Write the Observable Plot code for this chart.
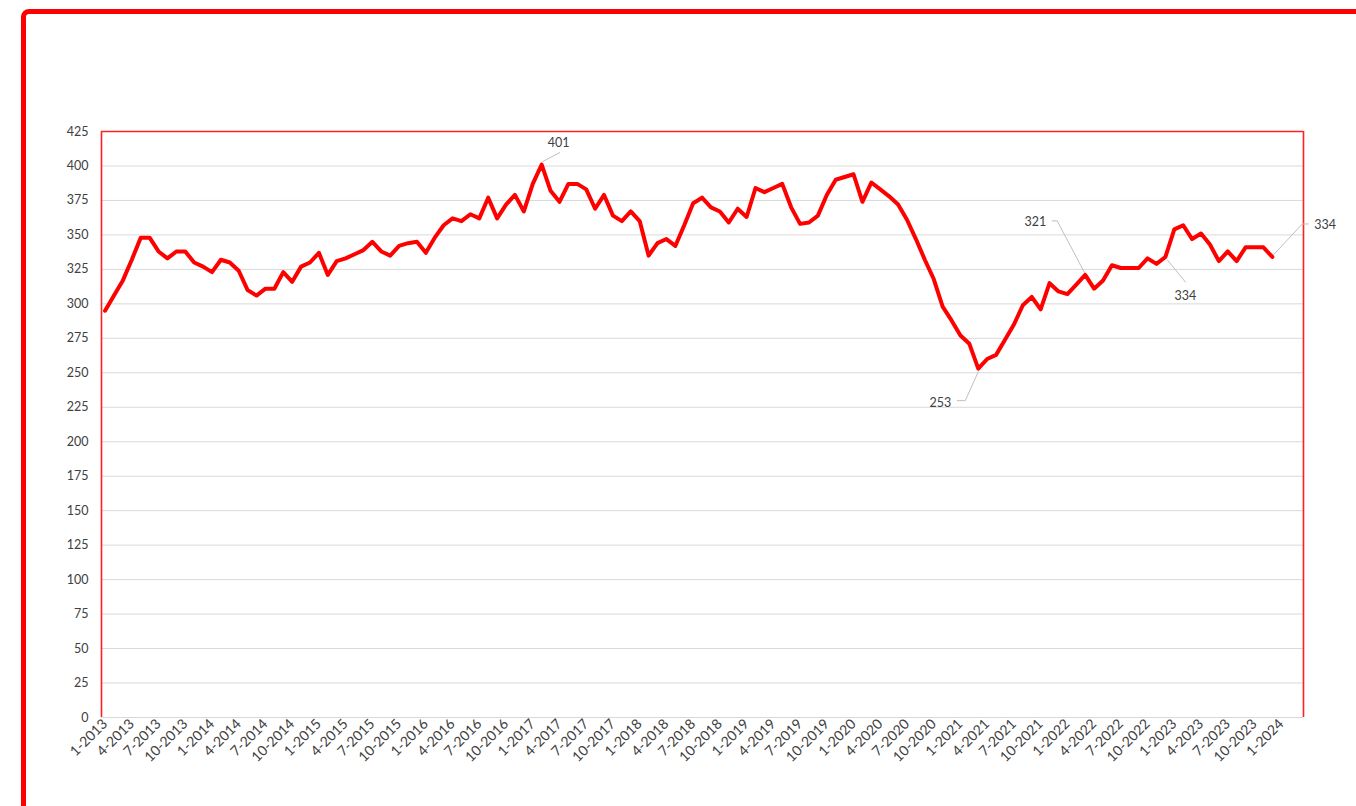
<!DOCTYPE html>
<html>
<head>
<meta charset="utf-8">
<script src="https://cdn.jsdelivr.net/npm/d3@7"></script>
<script src="https://cdn.jsdelivr.net/npm/@observablehq/plot@0.6"></script>
<style>
  html, body { margin: 0; padding: 0; background: #fff; overflow: hidden; width: 1356px; height: 806px; }
  #frame { position: absolute; left: 21px; top: 9px; width: 1400px; height: 900px; border: 5px solid #ff0000; border-radius: 8px; box-sizing: border-box; }
  #chart { position: absolute; left: 0; top: 0; }
</style>
</head>
<body>
<div id="frame"></div>
<div id="chart"></div>
<script>
// Monthly values, 1-2013 .. 12-2023
const startYear = 2013;
const values = [
  295, 306, 317, 332, 348, 348, 338, 333, 338, 338, 330, 327,
  323, 332, 330, 324, 310, 306, 311, 311, 323, 316, 327, 330,
  337, 321, 331, 333, 336, 339, 345, 338, 335, 342, 344, 345,
  337, 348, 357, 362, 360, 365, 362, 377, 362, 372, 379, 367,
  387, 401, 382, 374, 387, 387, 383, 369, 379, 364, 360, 367,
  360, 335, 344, 347, 342, 357, 373, 377, 370, 367, 359, 369,
  363, 384, 381, 384, 387, 370, 358, 359, 364, 379, 390, 392,
  394, 374, 388, 383, 378, 372, 361, 347, 332, 318, 298, 288,
  277, 271, 253, 260, 263, 274, 285, 299, 305, 296, 315, 309,
  307, 314, 321, 311, 317, 328, 326, 326, 326, 333, 329, 334,
  354, 357, 347, 351, 343, 331, 338, 331, 341, 341, 341, 334
];
const xTickLabels = [
  "1-2013","4-2013","7-2013","10-2013","1-2014","4-2014","7-2014","10-2014",
  "1-2015","4-2015","7-2015","10-2015","1-2016","4-2016","7-2016","10-2016",
  "1-2017","4-2017","7-2017","10-2017","1-2018","4-2018","7-2018","10-2018",
  "1-2019","4-2019","7-2019","10-2019","1-2020","4-2020","7-2020","10-2020",
  "1-2021","4-2021","7-2021","10-2021","1-2022","4-2022","7-2022","10-2022",
  "1-2023","4-2023","7-2023","10-2023","1-2024"
];
const yTicks = [0,25,50,75,100,125,150,175,200,225,250,275,300,325,350,375,400,425];
// labelled points (month index)
const labelIdx = [49, 98, 110, 119, 131];

const data = values.map((v, i) => ({i, v}));
const xTickIdx = xTickLabels.map((_, k) => k * 3);

// layout
const W = 1356, H = 806;
const mL = 101, mR = 53, mT = 131, mB = 89;
const xDom = [-0.4, 134.5], yDom = [0, 425];
const pxX = (W - mL - mR) / (xDom[1] - xDom[0]);
const pxY = (H - mT - mB) / (yDom[1] - yDom[0]);

// annotation styling: leader path offsets (px) and text offset (px)
const annStyle = {
  49:  {path: [[1,-3],[18,-12]], text: [17,-22], anchor: "middle"},
  98:  {path: [[0,3],[-13,32],[-21,32]], text: [-27,34], anchor: "end"},
  110: {path: [[0,-1],[-28,-54],[-33,-54]], text: [-39,-53], anchor: "end"},
  119: {path: [[2,3],[20,25]], text: [20,39], anchor: "middle"},
  131: {path: [[1,-2],[30,-33],[36,-33]], text: [42,-32], anchor: "start"}
};
const leaderRows = [];
const textRows = [];
for (const i of labelIdx) {
  const v = values[i], s = annStyle[i];
  s.path.forEach(([dx, dy], k) => leaderRows.push({id: i, k, x: i + dx / pxX, y: v - dy / pxY}));
  textRows.push({x: i + s.text[0] / pxX, y: v - s.text[1] / pxY, label: String(v), anchor: s.anchor});
}

const chart = Plot.plot({
  width: W, height: H,
  marginLeft: mL, marginRight: mR, marginTop: mT, marginBottom: mB,
  style: {fontFamily: "Lato, 'Open Sans', sans-serif", fontSize: "12px", color: "#404040", background: "transparent", overflow: "visible"},
  x: {type: "linear", domain: xDom},
  y: {domain: yDom},
  marks: [
    Plot.gridY(yTicks, {stroke: "#d9d9d9", strokeOpacity: 1, strokeWidth: 1}),
    Plot.ruleX([xDom[0], xDom[1]], {stroke: "#ff2020", strokeWidth: 1.6}),
    Plot.ruleY([yDom[1]], {stroke: "#ff2020", strokeWidth: 1.6}),
    Plot.ruleY([0], {stroke: "#d9d9d9", strokeWidth: 1}),
    Plot.axisY(yTicks, {tickSize: 0, tickPadding: 13, label: null, fontSize: 12.5, fill: "#404040"}),
    Plot.axisX(xTickIdx, {tickSize: 0, tickPadding: 4, tickRotate: -45, label: null, tickFormat: d => xTickLabels[d / 3], fontSize: 14, fill: "#404040"}),
    Plot.line(leaderRows, {x: "x", y: "y", z: "id", stroke: "#bfbfbf", strokeWidth: 1}),
    Plot.line(data, {x: "i", y: "v", stroke: "#ff0000", strokeWidth: 4, strokeLinejoin: "round", strokeLinecap: "round"}),
    ...["start", "middle", "end"].map(a => Plot.text(textRows.filter(d => d.anchor === a), {x: "x", y: "y", text: "label", textAnchor: a, fontSize: 12.5, fill: "#404040"}))
  ]
});
document.getElementById("chart").appendChild(chart);
</script>
</body>
</html>
